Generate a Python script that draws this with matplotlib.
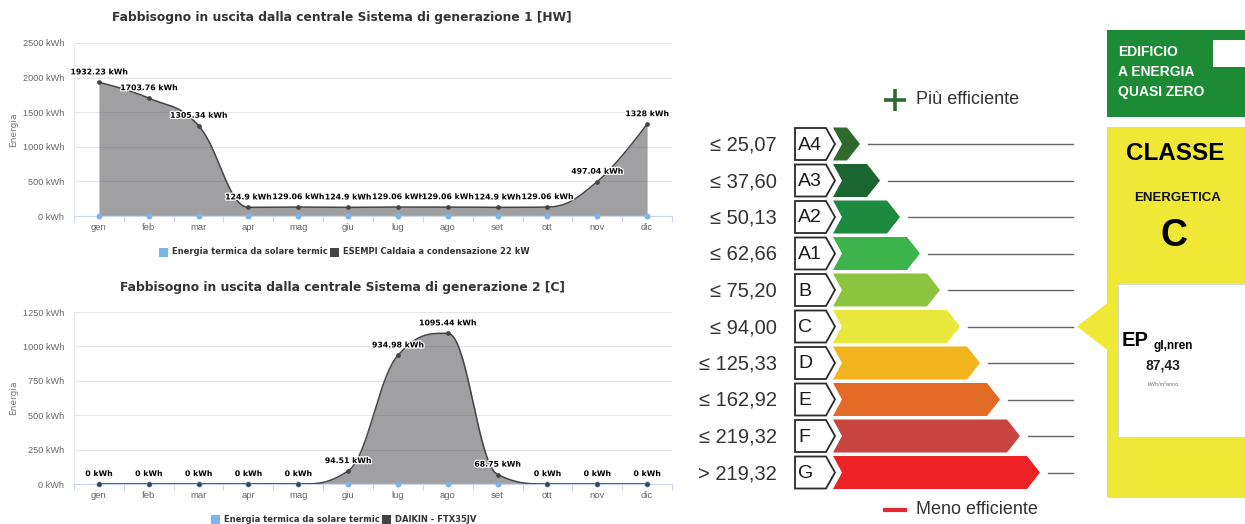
import matplotlib
matplotlib.use('Agg')
import matplotlib.pyplot as plt
import matplotlib.patheffects as pe
from matplotlib.patches import Polygon, Rectangle
from matplotlib.ticker import FuncFormatter, FixedLocator
import numpy as np

# ── dati ──
mesi = ['gen', 'feb', 'mar', 'apr', 'mag', 'giu', 'lug', 'ago', 'set', 'ott', 'nov', 'dic']
hw_solare = [0, 0, 0, 0, 0, 0, 0, 0, 0, 0, 0, 0]
hw_caldaia = [1932.23, 1703.76, 1305.34, 124.9, 129.06, 124.9, 129.06, 129.06, 124.9, 129.06, 497.04, 1328]
c_solare = [0, 0, 0, 0, 0, 0, 0, 0, 0, 0, 0, 0]
c_daikin = [0, 0, 0, 0, 0, 94.51, 934.98, 1095.44, 68.75, 0, 0, 0]

classi = ['A4', 'A3', 'A2', 'A1', 'B', 'C', 'D', 'E', 'F', 'G']
soglie = ['≤ 25,07', '≤ 37,60', '≤ 50,13', '≤ 62,66', '≤ 75,20',
          '≤ 94,00', '≤ 125,33', '≤ 162,92', '≤ 219,32', '> 219,32']
colori_classi = ['#2e6a2d', '#1b6530', '#1d8a3f', '#3cb44b', '#8dc43f',
                 '#e8e83c', '#f2b41d', '#e36a25', '#c7443f', '#ec2226']
classe_edificio = 'C'
ep_gl_nren = '87,43'

W, H = 1245, 524
BLU = '#7cb5ec'
GRIGIO = '#434348'
NARROW = ['Liberation Sans Narrow', 'Liberation Sans', 'DejaVu Sans']
ARIAL = ['Liberation Sans', 'DejaVu Sans']

fig = plt.figure(figsize=(W / 100, H / 100), dpi=100, facecolor='white')

# livello in coordinate pixel per etichetta energetica e legende
lab = fig.add_axes([0, 0, 1, 1], zorder=0)
lab.set_xlim(0, W)
lab.set_ylim(H, 0)
lab.axis('off')


def hc_spline(xs, ys, smoothing=1.5, steps=40):
    """Curva areaspline come in Highcharts (bezier cubiche con controllo anti-overshoot)."""
    n = len(xs)
    lc = [(xs[i], ys[i]) for i in range(n)]
    rc = [(xs[i], ys[i]) for i in range(n)]
    d = smoothing + 1
    for i in range(1, n - 1):
        lx, ly = xs[i - 1], ys[i - 1]
        px, py = xs[i], ys[i]
        nx, ny = xs[i + 1], ys[i + 1]
        lcx = (smoothing * px + lx) / d
        lcy = (smoothing * py + ly) / d
        rcx = (smoothing * px + nx) / d
        rcy = (smoothing * py + ny) / d
        corr = (rcy - lcy) * (rcx - px) / (rcx - lcx) + py - rcy
        lcy += corr
        rcy += corr
        if lcy > ly and lcy > py:
            lcy = max(ly, py); rcy = 2 * py - lcy
        elif lcy < ly and lcy < py:
            lcy = min(ly, py); rcy = 2 * py - lcy
        if rcy > ny and rcy > py:
            rcy = max(ny, py); lcy = 2 * py - rcy
        elif rcy < ny and rcy < py:
            rcy = min(ny, py); lcy = 2 * py - rcy
        lc[i] = (lcx, lcy)
        rc[i] = (rcx, rcy)
    t = np.linspace(0, 1, steps)[1:]
    X, Y = [xs[0]], [ys[0]]
    for i in range(1, n):
        p0 = np.array([xs[i - 1], ys[i - 1]], float)
        p1 = np.array(rc[i - 1], float)
        p2 = np.array(lc[i], float)
        p3 = np.array([xs[i], ys[i]], float)
        b = ((1 - t) ** 3)[:, None] * p0 + (3 * (1 - t) ** 2 * t)[:, None] * p1 \
            + (3 * (1 - t) * t ** 2)[:, None] * p2 + (t ** 3)[:, None] * p3
        X.extend(b[:, 0]); Y.extend(b[:, 1])
    return np.array(X), np.array(Y)


def fmt(v):
    return ('%.2f' % v).rstrip('0').rstrip('.')


def legenda(cy, voci, cx=344):
    r = fig.canvas.get_renderer()
    larg = []
    for _, testo in voci:
        t = lab.text(0, 0, testo, fontsize=6, fontweight='bold')
        larg.append(t.get_window_extent(r).width)
        t.remove()
    sq = 9
    tot = sum(sq + 4 + w for w in larg) + 2 * (len(voci) - 1)
    x = cx - tot / 2
    for (col, testo), w in zip(voci, larg):
        lab.add_patch(Rectangle((x, cy - sq / 2), sq, sq, fc=col, ec='none'))
        lab.text(x + sq + 4, cy, testo, fontsize=6, fontweight='bold',
                 color='#333333', va='center', ha='left')
        x += sq + 4 + w + 2


def grafico(x0, ytop, x1, ybot, titolo, title_y, valori, solare, ymax, ystep,
            nome_serie, legend_y):
    ax = fig.add_axes([x0 / W, 1 - ybot / H, (x1 - x0) / W, (ybot - ytop) / H], zorder=2)
    xs = np.arange(len(mesi))
    sx, sy = hc_spline(xs, valori)
    ax.fill_between(sx, sy, 0, color=GRIGIO, alpha=0.5, lw=0, zorder=2)
    ax.plot(sx, sy, color=GRIGIO, lw=1.1, zorder=3)
    ax.plot(xs, solare, color=BLU, lw=1.3, zorder=2.5, clip_on=False)
    ax.plot(xs, solare, 'o', color=BLU, ms=4.3, mew=0, zorder=4, clip_on=False)
    ax.plot(xs, valori, 'o', color=GRIGIO, ms=3.4, mew=0, zorder=5, clip_on=False)
    for x, v in zip(xs, valori):
        ax.annotate(fmt(v) + ' kWh', (x, v), xytext=(0, 7.5), textcoords='offset points',
                    ha='center', va='center', fontsize=5.6, fontweight='bold', color='black',
                    path_effects=[pe.withStroke(linewidth=1.8, foreground='white')],
                    zorder=6, annotation_clip=False)
    ax.set_xlim(-0.5, len(mesi) - 0.5)
    ax.set_ylim(0, ymax)
    ax.set_yticks(np.arange(0, ymax + 1, ystep))
    ax.yaxis.set_major_formatter(FuncFormatter(lambda v, p: f'{v:.0f} kWh'))
    ax.set_xticks(xs)
    ax.set_xticklabels(mesi)
    ax.xaxis.set_minor_locator(FixedLocator(np.arange(-0.5, len(mesi), 1)))
    ax.tick_params(axis='y', length=0, pad=7, labelsize=6.6, labelcolor='#666666')
    ax.tick_params(axis='x', which='major', length=0, pad=5, labelsize=6.8, labelcolor='#666666')
    ax.tick_params(axis='x', which='minor', length=4, width=0.8, color='#ccd6eb')
    for t in ax.get_xticklabels() + ax.get_yticklabels():
        t.set_family(NARROW)
    ax.grid(axis='y', color='#e6e6e6', lw=0.8)
    ax.set_axisbelow(True)
    ax.spines['top'].set_visible(False)
    ax.spines['right'].set_visible(False)
    ax.spines['left'].set_color('#eeeeee')
    ax.spines['left'].set_linewidth(0.8)
    ax.spines['bottom'].set_color('#ccd6eb')
    ax.spines['bottom'].set_linewidth(0.8)
    ax.set_ylabel('Energia', fontsize=6.5, color='#777777')
    ax.yaxis.set_label_coords(-0.093, 0.5)
    lab.text(342, title_y, titolo, ha='center', va='center', fontsize=8.8,
             fontweight='bold', color='#333333')
    legenda(legend_y, [(BLU, 'Energia termica da solare termic'), (GRIGIO, nome_serie)])
    return ax


grafico(74, 43, 672, 216, 'Fabbisogno in uscita dalla centrale Sistema di generazione 1 [HW]',
        18, hw_caldaia, hw_solare, 2500, 500, 'ESEMPI Caldaia a condensazione 22 kW', 252)
grafico(74, 312, 672, 484, 'Fabbisogno in uscita dalla centrale Sistema di generazione 2 [C]',
        287, c_daikin, c_solare, 1250, 250, 'DAIKIN - FTX35JV', 519)

# ── scala delle classi energetiche ──
y0, passo, h2 = 144, 36.5, 16.5
for i, (cl, sg, col) in enumerate(zip(classi, soglie, colori_classi)):
    yc = y0 + i * passo
    lab.text(777, yc + 1, sg, ha='right', va='center', fontsize=14.5, family=NARROW, color='#333333')
    lab.add_patch(Polygon([(795, yc - 16), (826, yc - 16), (835, yc), (826, yc + 16), (795, yc + 16)],
                          closed=True, fc='white', ec='#2a2a2a', lw=1.3))
    lab.text(798, yc + 1, cl, ha='left', va='center', fontsize=14, family=NARROW, color='#1a1a1a')
    xe = 860 + 20 * i
    lab.add_patch(Polygon([(833, yc - h2), (xe - 13, yc - h2), (xe, yc), (xe - 13, yc + h2),
                           (833, yc + h2), (842, yc)], closed=True, fc=col, ec='none'))
    lab.plot([xe + 8, 1073], [yc, yc], color='#666666', lw=1.0)

lab.plot([884, 906], [100, 100], color='#2b6b30', lw=2.6, solid_capstyle='butt')
lab.plot([895, 895], [89, 111], color='#2b6b30', lw=2.6, solid_capstyle='butt')
lab.text(916, 100, 'Più efficiente', ha='left', va='center', fontsize=13, family=NARROW, color='#333333')
lab.plot([883, 907], [510, 510], color='#e8262b', lw=3, solid_capstyle='butt')
lab.text(916, 510, 'Meno efficiente', ha='left', va='center', fontsize=13, family=NARROW, color='#333333')

# riquadro NZEB
lab.add_patch(Rectangle((1107, 30), 150, 87, fc='#1d8b35', ec='none'))
lab.add_patch(Rectangle((1213, 40), 50, 27, fc='white', ec='none'))
for yy, riga in zip([52, 72, 92], ['EDIFICIO', 'A ENERGIA', 'QUASI ZERO']):
    lab.text(1118, yy, riga, ha='left', va='center', fontsize=10, fontweight='bold',
             family=NARROW, color='white')

# riquadro classe
GIALLO = '#f0e836'
lab.add_patch(Rectangle((1107, 127), 150, 371, fc=GIALLO, ec='none'))
yc_cl = y0 + classi.index(classe_edificio) * passo
lab.add_patch(Polygon([(1077, yc_cl), (1108, yc_cl - 24), (1108, yc_cl + 24)], closed=True,
                      fc=GIALLO, ec='none'))
lab.text(1175, 154, 'CLASSE', ha='center', va='center', fontsize=17.5, fontweight='bold',
         family=ARIAL, color='black')
lab.text(1178, 198, 'ENERGETICA', ha='center', va='center', fontsize=9.5, fontweight='bold',
         family=ARIAL, color='#111111')
lab.text(1174, 236, classe_edificio, ha='center', va='center', fontsize=27, fontweight='bold',
         family=ARIAL, color='black')
lab.add_patch(Rectangle((1118, 284), 140, 153, fc='white', ec='#d8d8d8', lw=0.6))
lab.text(1122, 341, 'EP', ha='left', va='center', fontsize=14.5, fontweight='bold',
         family=ARIAL, color='black')
lab.text(1153, 346, 'gl,nren', ha='left', va='center', fontsize=8.5, fontweight='bold',
         family=ARIAL, color='black')
lab.text(1163, 366, ep_gl_nren, ha='center', va='center', fontsize=10, fontweight='bold',
         family=ARIAL, color='#222222')
lab.text(1163, 384, 'kWh/m²anno', ha='center', va='center', fontsize=4, family=ARIAL,
         color='#777777')

fig.savefig('out.png', dpi=100, facecolor='white')
